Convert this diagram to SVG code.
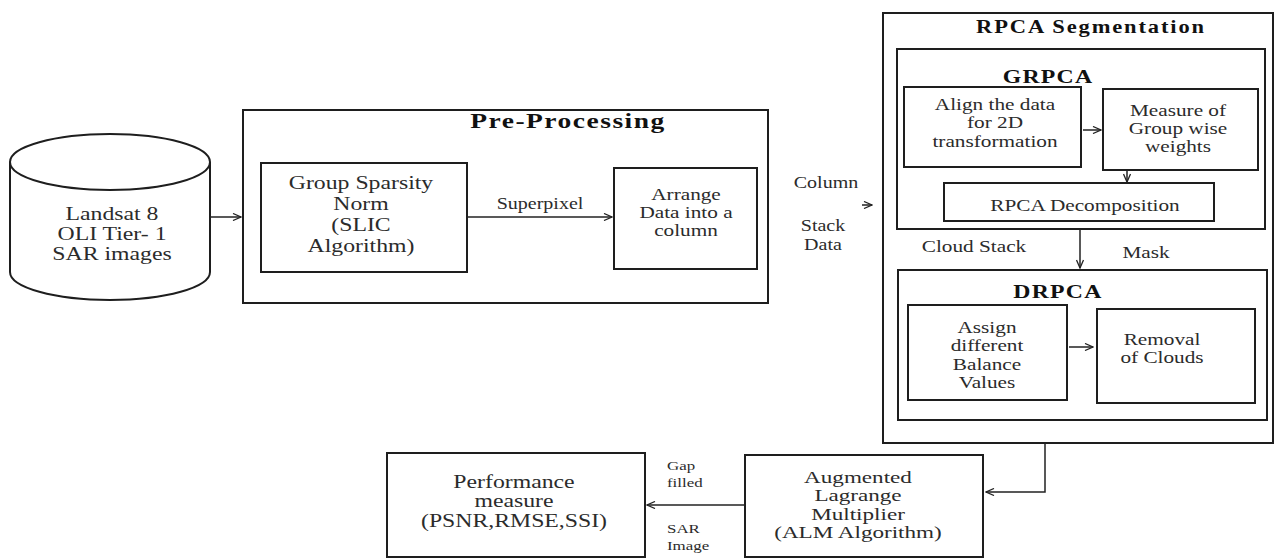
<svg xmlns="http://www.w3.org/2000/svg" width="1278" height="559" viewBox="0 0 1278 559">
<style>
.t{font-family:"Liberation Serif","Times New Roman",serif;fill:#2b2b2b;text-anchor:middle}
.s{text-anchor:start}
.b{font-weight:bold;fill:#111}
.box{fill:none;stroke:#1e1e1e;stroke-width:2}
.c{fill:none;stroke:#222;stroke-width:1.5}
</style>
<defs>
<marker id="ah" markerWidth="10" markerHeight="8" refX="9" refY="4" orient="auto" markerUnits="userSpaceOnUse">
<path d="M1,0.5 L9,4 L1,7.5" fill="none" stroke="#222" stroke-width="1.3"/>
</marker>
</defs>
<rect width="1278" height="559" fill="#fff"/>

<g id="landsat">
<path class="box" d="M10,162 V272 A100,28 0 0 0 210,272 V162"/>
<ellipse class="box" cx="110" cy="162" rx="100" ry="28"/>
<text class="t" font-size="19" transform="translate(112,0) scale(1.25,1)"><tspan x="0" y="220">Landsat 8</tspan><tspan x="0" y="240">OLI Tier- 1</tspan><tspan x="0" y="260">SAR images</tspan></text>
</g>

<g id="preprocessing">
<rect class="box" x="243" y="110" width="525" height="193"/>
<text class="t b" font-size="22" letter-spacing="1.2" transform="translate(568,0) scale(1.25,1)" x="0" y="128">Pre-Processing</text>
</g>

<g id="gsn">
<rect class="box" x="261" y="163" width="206" height="109"/>
<text class="t" font-size="19" transform="translate(361,0) scale(1.25,1)"><tspan x="0" y="189">Group Sparsity</tspan><tspan x="0" y="210">Norm</tspan><tspan x="0" y="231">(SLIC</tspan><tspan x="0" y="252">Algorithm)</tspan></text>
</g>

<g id="arrange">
<rect class="box" x="614" y="168" width="143" height="101"/>
<text class="t" font-size="17" transform="translate(686,0) scale(1.25,1)"><tspan x="0" y="200">Arrange</tspan><tspan x="0" y="218">Data into a</tspan><tspan x="0" y="236">column</tspan></text>
</g>

<g id="rpca">
<rect class="box" x="883" y="13" width="390" height="430"/>
<text class="t b" font-size="18" letter-spacing="1.5" transform="translate(1091,0) scale(1.25,1)" x="0" y="33">RPCA Segmentation</text>
</g>

<g id="grpca">
<rect class="box" x="897" y="49" width="368" height="180"/>
<text class="t b" font-size="19" letter-spacing="1" transform="translate(1048,0) scale(1.25,1)" x="0" y="83">GRPCA</text>
</g>

<g id="align">
<rect class="box" x="904" y="87" width="177" height="80"/>
<text class="t" font-size="17" transform="translate(995,0) scale(1.25,1)"><tspan x="0" y="110">Align the data</tspan><tspan x="0" y="128.5">for 2D</tspan><tspan x="0" y="147">transformation</tspan></text>
</g>

<g id="measure">
<rect class="box" x="1103" y="89" width="155" height="81"/>
<text class="t" font-size="17" transform="translate(1178,0) scale(1.25,1)"><tspan x="0" y="116">Measure of</tspan><tspan x="0" y="134">Group wise</tspan><tspan x="0" y="152">weights</tspan></text>
</g>

<g id="decomp">
<rect class="box" x="944" y="183" width="270" height="38"/>
<text class="t" font-size="17" transform="translate(1085,0) scale(1.25,1)" x="0" y="211">RPCA Decomposition</text>
</g>

<g id="drpca">
<rect class="box" x="898" y="270" width="369" height="150"/>
<text class="t b" font-size="19" letter-spacing="1" transform="translate(1058,0) scale(1.25,1)" x="0" y="298">DRPCA</text>
</g>

<g id="assign">
<rect class="box" x="908" y="305" width="159" height="95"/>
<text class="t" font-size="17" transform="translate(987,0) scale(1.25,1)"><tspan x="0" y="333">Assign</tspan><tspan x="0" y="351">different</tspan><tspan x="0" y="370">Balance</tspan><tspan x="0" y="388">Values</tspan></text>
</g>

<g id="removal">
<rect class="box" x="1097" y="309" width="158" height="94"/>
<text class="t" font-size="17" transform="translate(1162,0) scale(1.25,1)"><tspan x="0" y="345">Removal</tspan><tspan x="0" y="363">of Clouds</tspan></text>
</g>

<g id="alm">
<rect class="box" x="745" y="455" width="238" height="102"/>
<text class="t" font-size="17" transform="translate(858,0) scale(1.36,1)"><tspan x="0" y="483">Augmented</tspan><tspan x="0" y="501.5">Lagrange</tspan><tspan x="0" y="520">Multiplier</tspan><tspan x="0" y="538.5">(ALM Algorithm)</tspan></text>
</g>

<g id="performance">
<rect class="box" x="387" y="453" width="258" height="104"/>
<text class="t" font-size="19" transform="translate(514,0) scale(1.25,1)"><tspan x="0" y="488">Performance</tspan><tspan x="0" y="507.5">measure</tspan><tspan x="0" y="527">(PSNR,RMSE,SSI)</tspan></text>
</g>

<g id="connectors">
<line class="c" x1="210" y1="217" x2="241" y2="217" marker-end="url(#ah)"/>
<line class="c" x1="467" y1="217" x2="612" y2="217" marker-end="url(#ah)"/>
<line class="c" x1="862" y1="205" x2="872" y2="205" marker-end="url(#ah)"/>
<line class="c" x1="1083" y1="130" x2="1101" y2="130" marker-end="url(#ah)"/>
<line class="c" x1="1127" y1="170" x2="1127" y2="182" marker-end="url(#ah)"/>
<line class="c" x1="1080" y1="229" x2="1080" y2="268" marker-end="url(#ah)"/>
<line class="c" x1="1069" y1="347" x2="1093" y2="347" marker-end="url(#ah)"/>
<path class="c" d="M1045,443 V492 H986" marker-end="url(#ah)"/>
<line class="c" x1="745" y1="505" x2="647" y2="505" marker-end="url(#ah)"/>
</g>

<g id="labels">
<text class="t" font-size="16" transform="translate(540,0) scale(1.25,1)" x="0" y="209">Superpixel</text>
<text class="t" font-size="16" transform="translate(826,0) scale(1.25,1)" x="0" y="188">Column</text>
<text class="t" font-size="16" transform="translate(823,0) scale(1.25,1)"><tspan x="0" y="231">Stack</tspan><tspan x="0" y="250">Data</tspan></text>
<text class="t" font-size="17" transform="translate(974,0) scale(1.25,1)" x="0" y="252">Cloud Stack</text>
<text class="t" font-size="17" transform="translate(1146,0) scale(1.25,1)" x="0" y="258">Mask</text>
<text class="t s" font-size="13.5" transform="translate(667,0) scale(1.25,1)"><tspan x="0" y="470">Gap</tspan><tspan x="0" y="487">filled</tspan></text>
<text class="t s" font-size="13.5" transform="translate(667,0) scale(1.25,1)"><tspan x="0" y="533">SAR</tspan><tspan x="0" y="550">Image</tspan></text>
</g>
</svg>
